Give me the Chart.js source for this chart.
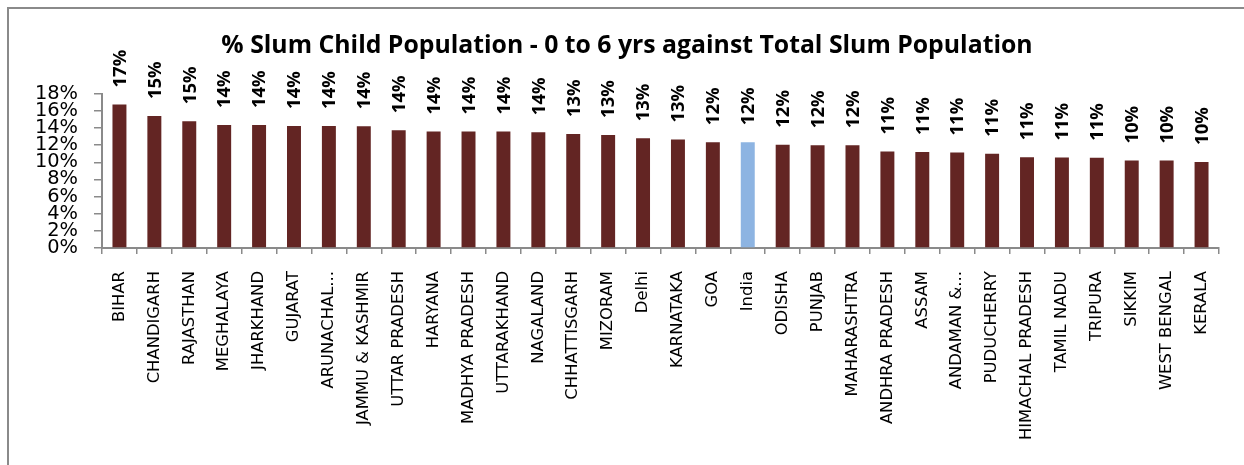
<!DOCTYPE html>
<html>
<head>
<meta charset="utf-8">
<script src="https://cdn.jsdelivr.net/npm/chart.js@4/dist/chart.umd.min.js"></script>
<style>
  html, body { margin: 0; padding: 0; background: #fff; overflow: hidden; }
  #frame { position: absolute; left: 7px; top: 7px; width: 1400px; height: 700px; border: 2px solid #8a8a8a; box-sizing: border-box; }
  #wrap { position: absolute; left: 0; top: 0; width: 1244px; height: 465px; }
</style>
</head>
<body>
<div id="frame"></div>
<div id="wrap"><canvas id="c" width="1244" height="465"></canvas></div>
<script>
const categories = ["BIHAR","CHANDIGARH","RAJASTHAN","MEGHALAYA","JHARKHAND","GUJARAT","ARUNACHAL...","JAMMU & KASHMIR","UTTAR PRADESH","HARYANA","MADHYA PRADESH","UTTARAKHAND","NAGALAND","CHHATTISGARH","MIZORAM","Delhi","KARNATAKA","GOA","India","ODISHA","PUNJAB","MAHARASHTRA","ANDHRA PRADESH","ASSAM","ANDAMAN &...","PUDUCHERRY","HIMACHAL PRADESH","TAMIL NADU","TRIPURA","SIKKIM","WEST BENGAL","KERALA"];
const childPct = [16.75,15.4,14.8,14.35,14.35,14.25,14.25,14.2,13.75,13.6,13.6,13.6,13.52,13.3,13.2,12.8,12.65,12.35,12.35,12.05,12.0,12.0,11.25,11.2,11.15,11.0,10.6,10.55,10.52,10.2,10.2,10.05];
const highlighted = ["India"];
const yTicks = [0,2,4,6,8,10,12,14,16,18];

const barColor = "#632523";
const highlightColor = "#8db4e2";

const labelPlugin = {
  id: "barLabels",
  afterDatasetsDraw(chart) {
    const ctx = chart.ctx;
    const meta = chart.getDatasetMeta(0);
    ctx.save();
    ctx.font = "bold 18.5px 'Open Sans'";
    ctx.fillStyle = "#000";
    ctx.textAlign = "left";
    ctx.textBaseline = "middle";
    meta.data.forEach((bar, i) => {
      const txt = Math.round(childPct[i]) + "%";
      ctx.save();
      ctx.translate(bar.x + 1, bar.y - 17);
      ctx.rotate(-Math.PI / 2);
      ctx.fillText(txt, 0, 0);
      ctx.restore();
    });
    ctx.restore();
  }
};

new Chart(document.getElementById("c"), {
  type: "bar",
  data: {
    labels: categories,
    datasets: [{
      data: childPct,
      backgroundColor: categories.map(c => highlighted.includes(c) ? highlightColor : barColor),
      barPercentage: 0.8,
      categoryPercentage: 0.5
    }]
  },
  options: {
    responsive: false,
    animation: false,
    layout: { padding: { left: 35, right: 25, top: 0, bottom: 0 } },
    plugins: {
      legend: { display: false },
      tooltip: { enabled: false },
      title: {
        display: true,
        text: "% Slum Child Population - 0 to 6 yrs against Total Slum Population",
        font: { family: "'Open Sans'", size: 24.8, weight: "bold", lineHeight: 1.2 },
        color: "#000",
        padding: { top: 31, bottom: 33 }
      }
    },
    scales: {
      x: {
        offset: true,
        grid: { display: true, drawOnChartArea: false, tickLength: 6, color: "#8a8a8a", lineWidth: 1.5, offset: true },
        border: { color: "#8a8a8a", width: 2 },
        ticks: {
          autoSkip: false, maxRotation: 90, minRotation: 90, padding: 17,
          color: "#000", font: { family: "'DejaVu Sans'", size: 16.4 }
        },
        afterFit: s => { s.height = 217; }
      },
      y: {
        min: 0, max: 18,
        afterBuildTicks: s => { s.ticks = yTicks.map(v => ({ value: v })); },
        grid: { display: true, drawOnChartArea: false, tickLength: 8, color: "#8a8a8a", lineWidth: 1.5 },
        border: { color: "#8a8a8a", width: 2 },
        ticks: {
          autoSkip: false, padding: 16, color: "#000",
          font: { family: "'DejaVu Sans'", size: 19.4, lineHeight: 1 },
          callback: v => v + "%"
        },
        afterFit: s => { s.width = 67; }
      }
    }
  },
  plugins: [labelPlugin]
});
</script>
</body>
</html>
